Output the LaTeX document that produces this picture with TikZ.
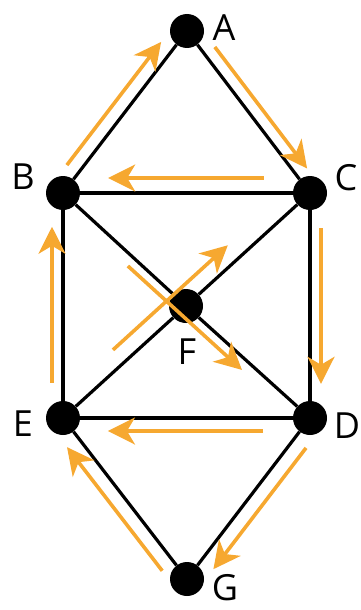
\documentclass[tikz,border=0pt]{standalone}
\usepackage{fontspec}
\setmainfont{Open Sans}
\usetikzlibrary{arrows.meta,calc}
\definecolor{amber}{RGB}{246,168,48}
\begin{document}
\begin{tikzpicture}[x=1pt, y=-1pt, >={Stealth[length=27pt,width=27pt,inset=8pt]},
  vertex/.style={circle, fill=black, minimum size=34pt, inner sep=0pt},
  edge/.style={line width=3.2pt},
  flow/.style={->, draw=amber, fill=amber, line width=3.6pt},
  lbl/.style={font=\fontsize{36}{40}\selectfont, inner sep=0pt}]
\useasboundingbox (0,0) rectangle (360,610);
% ---------------- vertices
\node[vertex] (A) at (187,31) {};
\node[vertex] (B) at (63,193) {};
\node[vertex] (C) at (310,193) {};
\node[vertex] (F) at (186,306) {};
\node[vertex] (E) at (63,418) {};
\node[vertex] (D) at (310,418) {};
\node[vertex] (G) at (187,579) {};
% ---------------- labels
\node[lbl] (labA) at ($(A)+(37,-3)$) {A};
\node[lbl] (labB) at ($(B)+(-40,-16)$) {B};
\node[lbl] (labC) at ($(C)+(36,-15)$) {C};
\node[lbl] (labD) at ($(D)+(37,8)$) {D};
\node[lbl] (labE) at ($(E)+(-40,6)$) {E};
\node[lbl] (labF) at ($(F)+(1,46)$) {F};
\node[lbl] (labG) at ($(G)+(38,9)$) {G};
% ---------------- edges
\draw[edge] (A) -- (B); \draw[edge] (A) -- (C); \draw[edge] (B) -- (C);
\draw[edge] (B) -- (E); \draw[edge] (C) -- (D); \draw[edge] (E) -- (D);
\draw[edge] (B) -- (F); \draw[edge] (F) -- (D); \draw[edge] (E) -- (F); \draw[edge] (F) -- (C);
\draw[edge] (E) -- (G); \draw[edge] (D) -- (G);
% ---------------- walk
\draw[flow] ($(B)!0.12!(A)+(-11,-8.5)$) -- ($(B)!0.88!(A)+(-11,-8.5)$);
\draw[flow] ($(A)!0.145!(C)+(10,-7.5)$) -- ($(A)!0.895!(C)+(10,-7.5)$);
\draw[flow] ($(C)!0.187!(B)+(0,-15)$) -- ($(C)!0.817!(B)+(0,-15)$);
\draw[flow] ($(C)!0.156!(D)+(11,0)$) -- ($(C)!0.848!(D)+(11,0)$);
\draw[flow] ($(D)!0.19!(E)+(0,13)$) -- ($(D)!0.818!(E)+(0,13)$);
\draw[flow] ($(D)!0.13!(G)+(12,9)$) -- ($(D)!0.883!(G)+(12,9)$);
\draw[flow] ($(G)!0.107!(E)+(-11.5,9)$) -- ($(G)!0.875!(E)+(-11.5,9)$);
\draw[flow] ($(E)!0.156!(B)+(-11,0)$) -- ($(E)!0.85!(B)+(-11,0)$);
\draw[flow] ($(E)!0.248!(C)+(-11.3,-12.3)$) -- ($(E)!0.713!(C)+(-11.3,-12.3)$);
\draw[flow] ($(B)!0.291!(D)+(-7,7.5)$) -- ($(B)!0.753!(D)+(-7,7.5)$);
\end{tikzpicture}
\end{document}
